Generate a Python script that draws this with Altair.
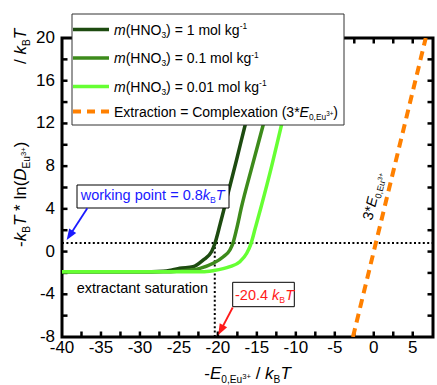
import math
import altair as alt
import pandas as pd

# ---------------- data ----------------
dark_x = [-40, -30, -27, -26, -24.9, -23.2, -21.9, -20.8, -20.4, -19.7, -19.1, -17.6, -16.5, -15.0, -13.6]
dark_y = [-1.9, -1.9, -1.85, -1.75, -1.57, -1.42, -0.8, 0.0, 0.72, 2.6, 4.3, 8.6, 11.85, 16.0, 20.0]

mid_x = [-40, -27, -24.9, -22.3, -20.6, -19.3, -18.46, -18.1, -17.6, -16.96, -15.6, -14.19, -11.3]
mid_y = [-1.9, -1.9, -1.82, -1.57, -1.1, -0.48, 0.15, 0.72, 2.1, 4.2, 8.0, 11.85, 20.0]

light_x = [-40, -22.0, -20.6, -18.46, -17.18, -16.3, -15.77, -15.2, -14.45, -13.1, -11.84, -9.0]
light_y = [-1.9, -1.9, -1.79, -1.42, -0.95, -0.16, 0.7, 2.2, 4.2, 8.0, 11.85, 20.0]

orange_x = [-2.67, 6.67]
orange_y = [-8.0, 20.0]

WORKING_POINT = 0.8
SAT_X = -20.4

x_labels = [-40, -35, -30, -25, -20, -15, -10, -5, 0, 5]
y_labels = [-8, -4, 0, 4, 8, 12, 16, 20]
x_ticks = [-37.5, -35, -32.5, -30, -27.5, -25, -22.5, -20, -17.5, -15, -12.5,
           -10, -7.5, -5, -2.5, 0, 2.5, 5]
y_ticks = [-6, -4, -2, 0, 2, 4, 6, 8, 10, 12, 14, 16, 18]

X_DOMAIN = [-40, 7.6]
Y_DOMAIN = [-8, 20]

series_colors = ["#1d4b10", "#3d8b1b", "#66ff33", "#ff8000"]

# ---------------- layout ----------------
W, H = 371, 299
PL, PT = 62, 38
FONT = "Liberation Sans"

XS = alt.Scale(domain=X_DOMAIN, nice=False, zero=False)
YS = alt.Scale(domain=Y_DOMAIN, nice=False, zero=False)
ONE = alt.Data(values=[{}])


def inv_x(px):  # plot pixel -> data x
    return X_DOMAIN[0] + px / W * (X_DOMAIN[1] - X_DOMAIN[0])


def inv_y(py):  # plot pixel -> data y
    return Y_DOMAIN[1] - py / H * (Y_DOMAIN[1] - Y_DOMAIN[0])


def X(field):
    return alt.X(field, scale=XS, axis=None)


def Y(field):
    return alt.Y(field, scale=YS, axis=None)


# Arial / Liberation Sans advance widths (per 1000 em)
WID = {' ': 278, '(': 333, ')': 333, '*': 389, '+': 584, ',': 278, '-': 333,
       '.': 278, '/': 278, '=': 584, 'B': 667, 'C': 722, 'D': 722, 'E': 667,
       'H': 722, 'N': 722, 'O': 778, 'T': 611, 'a': 556, 'c': 500, 'e': 556,
       'g': 556, 'i': 222, 'k': 500, 'l': 222, 'm': 833, 'n': 556, 'o': 556,
       'p': 556, 'r': 333, 's': 500, 't': 278, 'u': 556, 'w': 722, 'x': 500}


def tw(s, fs):
    return sum(WID.get(c, 556) for c in s) * fs / 1000.0


KINDS = {
    'n': (1.0, 0.0, False),
    'i': (1.0, 0.0, True),
    'sub': (0.6, 0.22, False),
    'sup': (0.6, -0.38, False),
    'ss': (0.45, -0.02, False),
}

rows = []


def rich_width(pieces, size):
    return sum(tw(t, size * KINDS[k][0]) for t, k in pieces)


def rich(pieces, x, y, size, color="black", angle=0.0):
    th = math.radians(angle)
    ux, uy = math.cos(th), math.sin(th)
    vx, vy = -math.sin(th), math.cos(th)
    adv = 0.0
    for text, kind in pieces:
        sc, dyf, it = KINDS[kind]
        fs = size * sc
        dy = dyf * size
        core = text.strip(" ")
        lead = tw(text[:len(text) - len(text.lstrip(" "))], fs)  # SVG drops edge spaces
        if core:
            a = adv + lead
            px = x - PL + a * ux + dy * vx
            py = y - PT + a * uy + dy * vy
            rows.append(dict(tx=inv_x(px), ty=inv_y(py), t=core, fs=fs, col=color,
                             ang=angle % 360, it=it))
        adv += tw(text, fs)


layers = []

# frame
layers.append(alt.Chart(ONE).mark_rect(fillOpacity=0, stroke="black", strokeWidth=3).encode(
    x=alt.value(0), x2=alt.value(W), y=alt.value(0), y2=alt.value(H)))

# inward ticks (positions through the scales, length in pixels)
TL = 5.5
bt = pd.DataFrame({"x": x_ticks, "y": Y_DOMAIN[0], "y2": inv_y(H - TL)})
tt = pd.DataFrame({"x": x_ticks, "y": Y_DOMAIN[1], "y2": inv_y(TL)})
lt = pd.DataFrame({"y": y_ticks, "x": X_DOMAIN[0], "x2": inv_x(TL)})
rt = pd.DataFrame({"y": y_ticks, "x": X_DOMAIN[1], "x2": inv_x(W - TL)})
TK = dict(color="black", strokeWidth=2.5)
for d in (bt, tt):
    layers.append(alt.Chart(d).mark_rule(**TK).encode(x=X("x:Q"), y=Y("y:Q"), y2="y2:Q"))
for d in (lt, rt):
    layers.append(alt.Chart(d).mark_rule(**TK).encode(y=Y("y:Q"), x=X("x:Q"), x2="x2:Q"))

# tick labels (hyphen minus as in the reference)
xl = pd.DataFrame({"x": x_labels, "y": inv_y(H + 15.5), "t": [str(v) for v in x_labels]})
yl = pd.DataFrame({"y": y_labels, "x": inv_x(-7), "t": [str(v) for v in y_labels]})
layers.append(alt.Chart(xl).mark_text(font=FONT, fontSize=17, color="black", align="center",
                                      baseline="alphabetic").encode(x=X("x:Q"), y=Y("y:Q"), text="t:N"))
layers.append(alt.Chart(yl).mark_text(font=FONT, fontSize=17, color="black", align="right",
                                      baseline="middle").encode(x=X("x:Q"), y=Y("y:Q"), text="t:N"))

# dotted guide lines
hdf = pd.DataFrame({"x": [X_DOMAIN[0]], "x2": [X_DOMAIN[1]], "y": [WORKING_POINT]})
vdf = pd.DataFrame({"x": [SAT_X], "y": [Y_DOMAIN[0]], "y2": [WORKING_POINT]})
layers.append(alt.Chart(hdf).mark_rule(color="black", strokeWidth=2, strokeDash=[2, 2.4]).encode(
    x=X("x:Q"), x2="x2:Q", y=Y("y:Q")))
layers.append(alt.Chart(vdf).mark_rule(color="black", strokeWidth=2, strokeDash=[2, 2.4]).encode(
    x=X("x:Q"), y=Y("y:Q"), y2="y2:Q"))


def line_layer(xs, ys, color, width=3.5, dash=None):
    df = pd.DataFrame({"x": xs, "y": ys})
    kw = dict(color=color, strokeWidth=width, clip=True)
    if dash:
        kw["strokeDash"] = dash
    else:
        kw["interpolate"] = "monotone"
        kw["strokeJoin"] = "round"
    return alt.Chart(df).mark_line(**kw).encode(x=X("x:Q"), y=Y("y:Q"))


layers.append(line_layer(dark_x, dark_y, series_colors[0]))
layers.append(line_layer(mid_x, mid_y, series_colors[1]))
layers.append(line_layer(light_x, light_y, series_colors[2]))
layers.append(line_layer(orange_x, orange_y, series_colors[3], width=4, dash=[9, 6]))


def box(x1, y1, x2, y2, stroke="black", sw=1):
    return alt.Chart(ONE).mark_rect(fill="white", stroke=stroke, strokeWidth=sw).encode(
        x=alt.value(x1 - PL), x2=alt.value(x2 - PL), y=alt.value(y1 - PT), y2=alt.value(y2 - PT))


ARROW = "M0,0L-0.38,1L0.38,1Z"


def arrow(x1, y1, x2, y2, color):
    dx, dy = x2 - x1, y2 - y1
    L = math.hypot(dx, dy)
    ang = math.degrees(math.atan2(dx, -dy)) % 360
    hl = 11
    sx, sy = x2 - dx / L * (hl - 2), y2 - dy / L * (hl - 2)
    shaft = alt.Chart(ONE).mark_rule(color=color, strokeWidth=1.8).encode(
        x=alt.value(x1 - PL), y=alt.value(y1 - PT), x2=alt.value(sx - PL), y2=alt.value(sy - PT))
    head = alt.Chart(ONE).mark_point(shape=ARROW, filled=True, size=(2 * hl) ** 2, angle=ang,
                                     color=color, opacity=1, strokeWidth=0).encode(
        x=alt.value(x2 - PL), y=alt.value(y2 - PT))
    return [shaft, head]


layers.append(box(77, 185, 229, 208))
layers += arrow(87.3, 208.3, 66.7, 240, "#1a1aff")
layers.append(box(232.7, 282.3, 294.3, 306.7))
layers += arrow(232.7, 307.5, 218.3, 335, "#ff1a1a")

# legend box and symbols
layers.append(box(72, 14, 344, 125, stroke="#333333", sw=1))
leg_y = [29.5, 58, 86.5, 111.5]
for i, yy in enumerate(leg_y):
    kw = dict(color=series_colors[i], strokeWidth=3.5 if i < 3 else 4)
    if i == 3:
        kw["strokeDash"] = [8, 6]
    layers.append(alt.Chart(ONE).mark_rule(**kw).encode(
        x=alt.value(73 - PL), x2=alt.value(109 - PL), y=alt.value(yy - PT)))

# ---------------- rich texts ----------------
LS = 14
for i, conc in enumerate(["1", "0.1", "0.01"]):
    rich([("m", "i"), ("(HNO", "n"), ("3", "sub"), (") = " + conc + " mol kg", "n"), ("-1", "sup")],
         114, leg_y[i] + 5, LS)
rich([("Extraction = Complexation (3*", "n"), ("E", "i"), ("0,Eu", "sub"), ("3+", "ss"), (")", "n")],
     114, leg_y[3] + 5, LS)

rich([("working point = 0.8", "n"), ("k", "i"), ("B", "sub"), ("T", "i")], 80.7, 200, 14.5, "#1a1aff")
rich([("-20.4 ", "n"), ("k", "i"), ("B", "sub"), ("T", "i")], 235, 300, 14.5, "#ff1a1a")
rich([("extractant saturation", "n")], 76.7, 293, 14.5)
rich([("3*", "n"), ("E", "i"), ("0,Eu", "sub"), ("3+", "ss")], 372, 221, 14.5, angle=284)

xt_pieces = [("-", "n"), ("E", "i"), ("0,Eu", "sub"), ("3+", "ss"), (" / ", "n"),
             ("k", "i"), ("B", "sub"), ("T", "i")]
xw = rich_width(xt_pieces, 17)
rich(xt_pieces, PL + W / 2 - xw / 2, 379, 17)

rich([("-", "n"), ("k", "i"), ("B", "sub"), ("T", "i"), (" * ", "n"), ("ln(", "n"),
      ("D", "i"), ("Eu", "sub"), ("3+", "ss"), (")", "n")], 26, 247, 17, angle=270)
rich([("/ ", "n"), ("k", "i"), ("B", "sub"), ("T", "i")], 26, 64, 17, angle=270)

txt = pd.DataFrame(rows)
for italic in (False, True):
    sub = txt[txt["it"] == italic].drop(columns=["it"])
    layers.append(alt.Chart(sub).mark_text(
        align="left", baseline="alphabetic", font=FONT,
        fontStyle="italic" if italic else "normal").encode(
        x=X("tx:Q"), y=Y("ty:Q"), text="t:N",
        size=alt.Size("fs:Q", scale=None, legend=None),
        color=alt.Color("col:N", scale=None, legend=None),
        angle=alt.Angle("ang:Q", scale=None),
    ))

chart = alt.layer(*layers).properties(
    width=W, height=H,
    padding={"left": PL, "top": PT, "right": 437 - PL - W, "bottom": 385 - PT - H},
    autosize="none",
    background="white",
).configure_view(stroke=None)

chart.save("out.html", embed_options={"renderer": "svg", "actions": False})
